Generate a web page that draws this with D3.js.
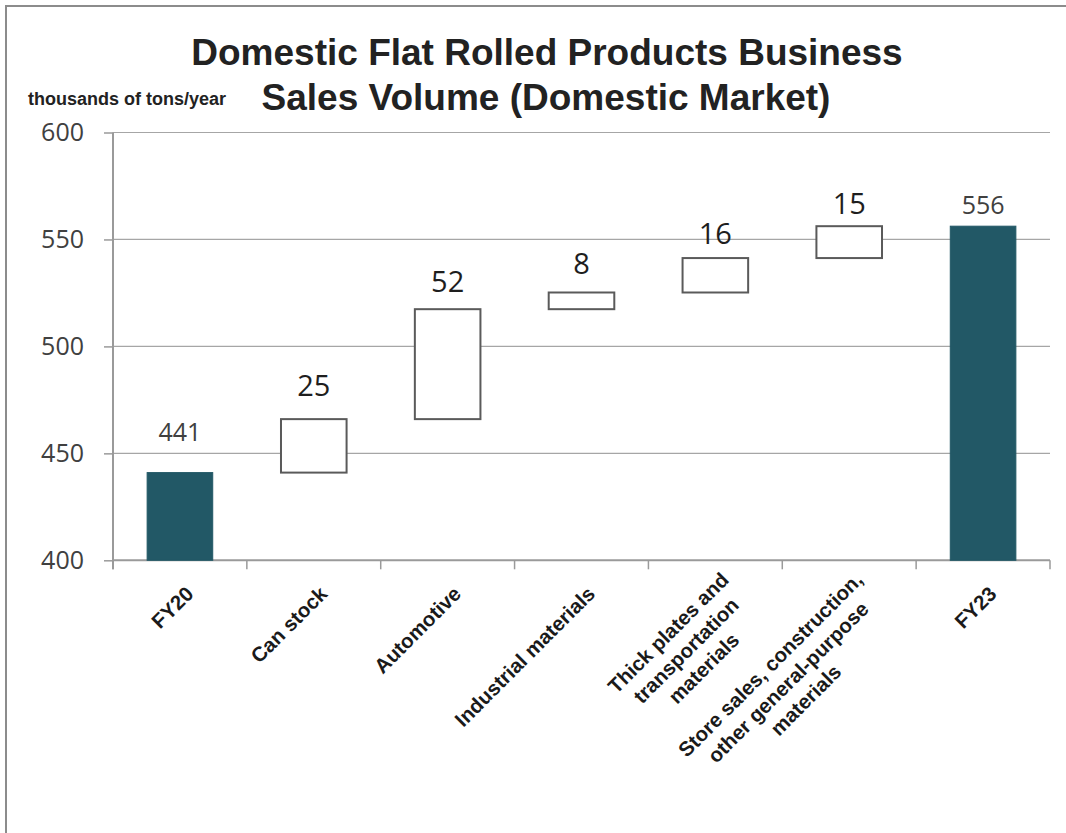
<!DOCTYPE html>
<html>
<head>
<meta charset="utf-8">
<script src="https://cdn.jsdelivr.net/npm/d3@7/dist/d3.min.js"></script>
<style>
  body { margin: 0; background: #fff; }
</style>
</head>
<body>
<svg id="chart" width="1066" height="833"></svg>
<script>
// categories, one entry per line of the (wrapped) axis label
var categories = [
	["FY20"],
	["Can stock"],
	["Automotive"],
	["Industrial materials"],
	["Thick plates and", "transportation", "materials"],
	["Store sales, construction,", "other general-purpose", "materials"],
	["FY23"]
];
var kinds = ["total", "step", "step", "step", "step", "step", "total"];
var amounts = [441, 25.0, 51.4, 7.8, 16.1, 14.9, 556.2];
var valueLabels = ["441", "25", "52", "8", "16", "15", "556"];
// level (in thousand tons) at which each value label sits
var labelLevels = [456, 477, 525.5, 534, 548, 562, 562];
var yTicks = [400, 450, 500, 550, 600];

(function() {
	var W = 1066,
		H = 833,
		plotLeft = 113,
		plotRight = 1050,
		plotTop = 132.5,
		plotBottom = 560.3;

	var svg = d3.select('#chart');

	svg.append('rect')
		.attr('width', W)
		.attr('height', H)
		.attr('fill', '#fff');

	// frame (only top and left edge show in the original)
	svg.append('path')
		.attr('d', 'M6,' + H + 'V6H' + W)
		.attr('fill', 'none')
		.attr('stroke', '#8c8c8c')
		.attr('stroke-width', 2);

	var xScale = d3.scaleBand()
		.domain(d3.range(categories.length))
		.range([plotLeft, plotRight])
		.padding(0);

	var yScale = d3.scaleLinear()
		.domain([400, 600])
		.range([plotBottom, plotTop]);

	// waterfall levels
	var running = 0;
	var bars = amounts.map(function(v, i) {
		var lo, hi;
		if (kinds[i] === 'total') {
			lo = 400;
			hi = v;
			running = v;
		} else {
			lo = running;
			hi = running + v;
			running = hi;
		}
		return { i: i, kind: kinds[i], lo: lo, hi: hi };
	});

	// gridlines
	svg.append('g')
		.selectAll('line')
		.data(yTicks.slice(1))
		.enter()
		.append('line')
		.attr('x1', plotLeft)
		.attr('x2', plotRight)
		.attr('y1', function(d) { return yScale(d); })
		.attr('y2', function(d) { return yScale(d); })
		.attr('stroke', '#a6a6a6')
		.attr('stroke-width', 1.2);

	// y axis
	var yAxis = svg.append('g')
		.attr('transform', 'translate(' + plotLeft + ',0)')
		.call(d3.axisLeft(yScale)
			.tickValues(yTicks)
			.tickSize(9)
			.tickSizeOuter(0)
			.tickPadding(20)
			.tickFormat(d3.format('d')));

	yAxis.select('.domain')
		.attr('d', 'M0,' + (plotBottom + 9) + 'V' + plotTop)
		.attr('stroke', '#9a9a9a')
		.attr('stroke-width', 2);
	yAxis.selectAll('.tick line')
		.attr('stroke', '#9a9a9a')
		.attr('stroke-width', 1.5);
	yAxis.selectAll('.tick text')
		.attr('fill', '#404040')
		.style('font-family', '"Open Sans", sans-serif')
		.style('font-size', '25px');

	// x axis line with ticks between categories
	var xAxis = svg.append('g');
	xAxis.append('line')
		.attr('x1', plotLeft)
		.attr('x2', plotRight)
		.attr('y1', plotBottom)
		.attr('y2', plotBottom)
		.attr('stroke', '#9a9a9a')
		.attr('stroke-width', 2);
	xAxis.selectAll('.xtick')
		.data(d3.range(categories.length + 1))
		.enter()
		.append('line')
		.attr('class', 'xtick')
		.attr('x1', function(d) { return plotLeft + d * xScale.step(); })
		.attr('x2', function(d) { return plotLeft + d * xScale.step(); })
		.attr('y1', plotBottom)
		.attr('y2', plotBottom + 9)
		.attr('stroke', '#9a9a9a')
		.attr('stroke-width', 1.5);

	// bars
	var barW = xScale.bandwidth() * 0.49;
	svg.append('g')
		.selectAll('rect')
		.data(bars)
		.enter()
		.append('rect')
		.attr('x', function(d) { return xScale(d.i) + (xScale.bandwidth() - barW) / 2; })
		.attr('y', function(d) { return yScale(d.hi); })
		.attr('width', barW)
		.attr('height', function(d) { return yScale(d.lo) - yScale(d.hi); })
		.attr('fill', function(d) { return d.kind === 'total' ? '#225866' : '#fff'; })
		.attr('stroke', function(d) { return d.kind === 'total' ? '#225866' : '#5a5a5a'; })
		.attr('stroke-width', function(d) { return d.kind === 'total' ? 1 : 2; });

	// value labels
	svg.append('g')
		.selectAll('text')
		.data(bars)
		.enter()
		.append('text')
		.attr('x', function(d) { return xScale(d.i) + xScale.bandwidth() / 2; })
		.attr('y', function(d) { return yScale(labelLevels[d.i]); })
		.attr('text-anchor', 'middle')
		.attr('fill', function(d) { return d.kind === 'total' ? '#404040' : '#1e1e1e'; })
		.style('font-family', '"Open Sans", sans-serif')
		.style('font-size', function(d) { return d.kind === 'total' ? '25px' : '29px'; })
		.text(function(d) { return valueLabels[d.i]; });

	// rotated category labels
	var fs = 20.5,
		lh = 25;
	categories.forEach(function(lines, i) {
		var cx = xScale(i) + xScale.bandwidth() / 2;
		var qy = plotBottom + 21 - 7 * (lines.length - 1);
		var g = svg.append('g')
			.attr('transform', 'translate(' + (cx + 1) + ',' + qy + ') rotate(-45)');
		var texts = lines.map(function(s, k) {
			return g.append('text')
				.attr('y', 19.5 + k * lh)
				.attr('text-anchor', 'middle')
				.attr('fill', '#1a1a1a')
				.style('font-family', '"Liberation Sans", Arial, sans-serif')
				.style('font-weight', 'bold')
				.style('font-size', fs + 'px')
				.text(s);
		});
		var widest = d3.max(texts, function(t) { return t.node().getComputedTextLength(); });
		texts.forEach(function(t) { t.attr('x', -widest / 2); });
	});

	// titles
	var title = svg.append('g')
		.attr('fill', '#222')
		.style('font-family', '"Liberation Sans", Arial, sans-serif')
		.style('font-weight', 'bold');
	title.append('text')
		.attr('x', 547)
		.attr('y', 65)
		.attr('text-anchor', 'middle')
		.style('font-size', '37px')
		.text('Domestic Flat Rolled Products Business');
	title.append('text')
		.attr('x', 546)
		.attr('y', 110)
		.attr('text-anchor', 'middle')
		.style('font-size', '37px')
		.text('Sales Volume (Domestic Market)');
	title.append('text')
		.attr('x', 28)
		.attr('y', 105)
		.style('font-size', '18px')
		.text('thousands of tons/year');
})();
</script>
</body>
</html>
